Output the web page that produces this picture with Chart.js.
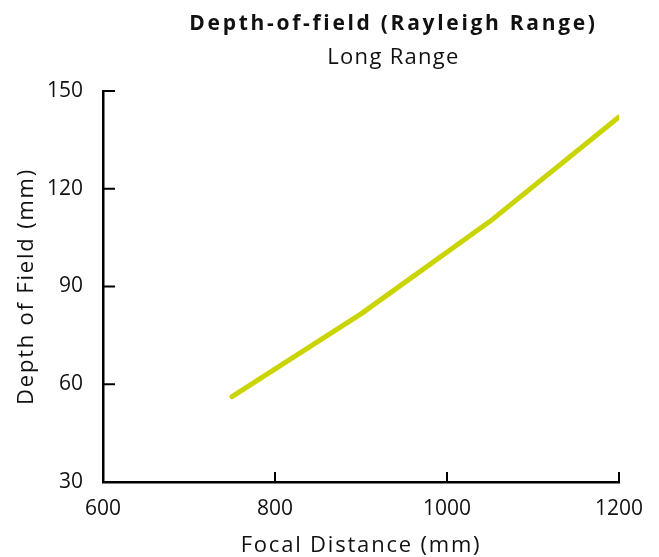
<!DOCTYPE html>
<html>
<head>
<meta charset="utf-8">
<script src="https://cdn.jsdelivr.net/npm/chart.js@4"></script>
<style>
  html, body { margin: 0; padding: 0; background: #fff; overflow: hidden; }
  #wrap { width: 659px; height: 557px; position: relative; }
  .ttl {
    position: absolute; left: 128px; width: 531px; text-align: center;
    font-family: 'Open Sans', 'DejaVu Sans', sans-serif; color: #111;
    line-height: 1; white-space: nowrap;
  }
  #title { top: 12px; font-size: 21px; font-weight: bold; letter-spacing: 2.7px; }
  #subtitle { top: 44px; font-size: 22px; font-weight: normal; letter-spacing: 1.3px; }
</style>
</head>
<body>
<div id="wrap">
  <canvas id="dofChart"></canvas>
  <div class="ttl" id="title">Depth-of-field (Rayleigh Range)</div>
  <div class="ttl" id="subtitle">Long Range</div>
</div>
<script>
const focalDistance = [750, 900, 1050, 1200];
const depthOfField = [56.2, 81.6, 110, 142];
const xTicks = [600, 800, 1000, 1200];
const yTicks = [30, 60, 90, 120, 150];

const lineColor = '#cad400';
const axisFont = "'Open Sans', 'DejaVu Sans', sans-serif";

// axis titles are drawn before the datasets and get spaced out,
// tick labels (z: 1) are drawn after and stay tight
const spacingPlugin = {
  id: 'spacing',
  beforeDraw(chart) { chart.ctx.letterSpacing = '1.8px'; },
  beforeDatasetsDraw(chart) { chart.ctx.letterSpacing = '0px'; }
};

// tick marks point into the plot, not out of it
const inwardTicks = {
  id: 'inwardTicks',
  afterDraw(chart) {
    const ctx = chart.ctx;
    const xs = chart.scales.x, ys = chart.scales.y;
    const area = chart.chartArea;
    ctx.save();
    ctx.strokeStyle = '#000';
    ctx.lineWidth = 2;
    xTicks.forEach(v => {
      const px = xs.getPixelForValue(v);
      ctx.beginPath();
      ctx.moveTo(px, area.bottom);
      ctx.lineTo(px, area.bottom - 10);
      ctx.stroke();
    });
    yTicks.forEach(v => {
      const py = ys.getPixelForValue(v);
      ctx.beginPath();
      ctx.moveTo(area.left, py);
      ctx.lineTo(area.left + 12, py);
      ctx.stroke();
    });
    ctx.restore();
  }
};

new Chart(document.getElementById('dofChart'), {
  type: 'line',
  data: {
    datasets: [{
      data: focalDistance.map((x, i) => ({ x: x, y: depthOfField[i] })),
      borderColor: lineColor,
      borderWidth: 5,
      borderCapStyle: 'round',
      borderJoinStyle: 'round',
      pointRadius: 0,
      tension: 0,
      fill: false
    }]
  },
  options: {
    responsive: true,
    maintainAspectRatio: false,
    animation: false,
    layout: { padding: { left: 0, right: 40, top: 91, bottom: 0 } },
    plugins: {
      legend: { display: false },
      tooltip: { enabled: false }
    },
    scales: {
      x: {
        type: 'linear',
        min: 600,
        max: 1200,
        afterBuildTicks: s => { s.ticks = xTicks.map(v => ({ value: v })); },
        afterFit: s => { s.height = 75; },
        grid: { display: false, drawTicks: false },
        border: { display: true, color: '#000', width: 2.5 },
        ticks: {
          z: 1, color: '#111', padding: 14,
          font: { family: axisFont, size: 21 },
          callback: v => String(v)
        },
        title: {
          display: true,
          text: 'Focal Distance (mm)',
          color: '#111',
          font: { family: axisFont, size: 22, lineHeight: 1.0 },
          padding: { top: 0, bottom: 0 }
        }
      },
      y: {
        type: 'linear',
        min: 30,
        max: 150,
        afterBuildTicks: s => { s.ticks = yTicks.map(v => ({ value: v })); },
        afterFit: s => { s.width = 103; },
        grid: { display: false, drawTicks: false },
        border: { display: true, color: '#000', width: 2.5 },
        ticks: {
          z: 1, color: '#111', padding: 20,
          font: { family: axisFont, size: 21 },
          callback: v => String(v)
        },
        title: {
          display: true,
          text: 'Depth of Field (mm)',
          color: '#111',
          font: { family: axisFont, size: 22, lineHeight: 1.2 },
          padding: { top: 14, bottom: 0 }
        }
      }
    }
  },
  plugins: [spacingPlugin, inwardTicks]
});
</script>
</body>
</html>
